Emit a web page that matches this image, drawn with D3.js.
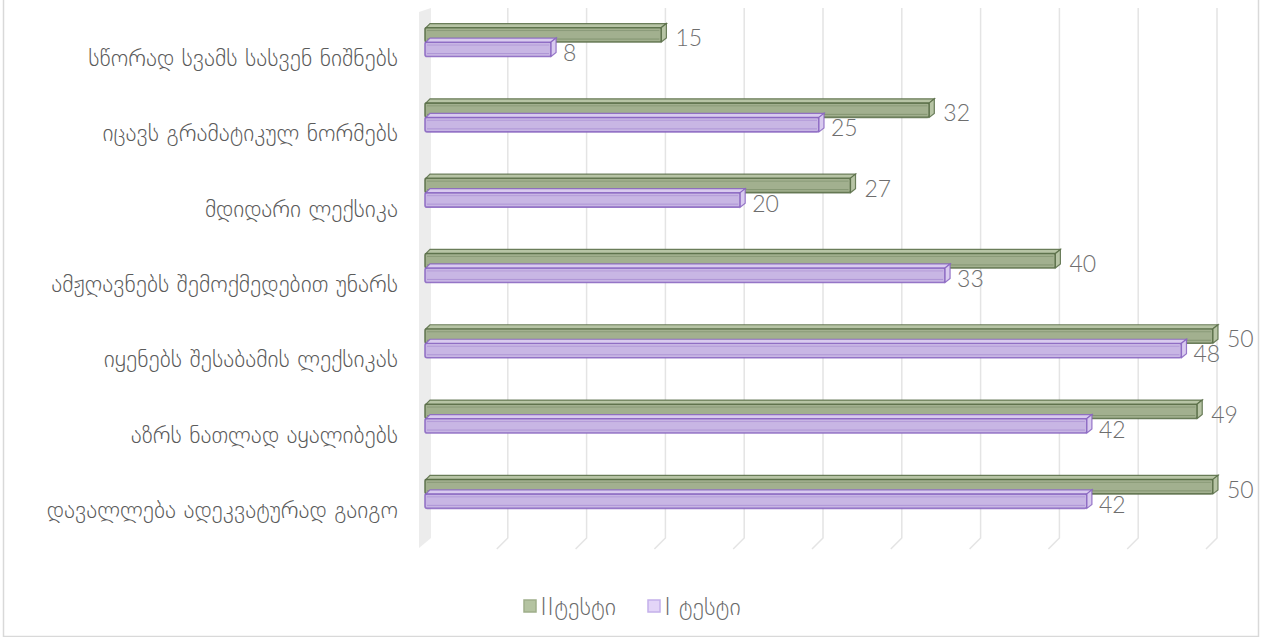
<!DOCTYPE html>
<html><head><meta charset="utf-8">
<script src="https://cdn.jsdelivr.net/npm/d3@7"></script>
<style>body{margin:0;background:#fff}svg{display:block}</style>
</head><body>
<script>
const categories = ["სწორად სვამს სასვენ ნიშნებს","იცავს გრამატიკულ ნორმებს","მდიდარი ლექსიკა","ამჟღავნებს შემოქმედებით უნარს","იყენებს შესაბამის ლექსიკას","აზრს ნათლად აყალიბებს ","დავალლება ადეკვატურად გაიგო"];
const test2 = [15,32,27,40,50,49,50];
const test1 = [8,25,20,33,48,42,42];
const seriesNames = ["IIტესტი","I ტესტი"];
const ticks = [0,5,10,15,20,25,30,35,40,45,50];

const W=1263,H=637;
const svg=d3.select("body").append("svg").attr("width",W).attr("height",H);
svg.append("rect").attr("x",3.5).attr("y",-2).attr("width",1255).attr("height",638.5).attr("fill","#fff").attr("stroke","#d9d9d9").attr("stroke-width",1.5);

const x=d3.scaleLinear().domain([0,50]).range([425,1213]);
const y=d3.scaleBand().domain(categories).range([4.4,531.5]);
const font="'DejaVu Sans', sans-serif";
const numFont="Lato, 'DejaVu Sans', sans-serif";

const g=svg.append("g");
g.append("path").attr("d",`M419,12 L431,8 L431,538 L419,548 Z`).attr("fill","#ececec");
ticks.slice(1).forEach(t=>{
  const xx=x(t)+4;
  g.append("path").attr("d",`M${xx},8 L${xx},538 L${xx-11},549`).attr("fill","none").attr("stroke","#e4e4e4").attr("stroke-width",1.5);
});

const h=14.5,d=5;
const series=[
  {vals:test2,fill:"#a2b08f",top:"#b7c4a5",stroke:"#566b44",off:-h},
  {vals:test1,fill:"#c8b6e4",top:"#d9cbef",stroke:"#8763c0",off:0}
];
categories.forEach((c,i)=>{
  const cy=y(c)+y.bandwidth()/2;
  series.forEach(s=>{
    const v=s.vals[i];
    const x0=x(0), x1=x(v), y0=cy+s.off;
    g.append("rect").attr("x",x0).attr("y",y0).attr("width",x1-x0).attr("height",h)
      .attr("fill",s.fill).attr("stroke",s.stroke).attr("stroke-width",1.6).attr("stroke-opacity",0.85).attr("rx",2);
    g.append("path").attr("d",`M${x0+1},${y0} L${x0+d},${y0-d+1} L${x1+d},${y0-d+1} L${x1},${y0} Z`)
      .attr("fill",s.top).attr("stroke",s.stroke).attr("stroke-width",1.2).attr("stroke-opacity",0.85);
    g.append("path").attr("d",`M${x1},${y0} L${x1+d},${y0-d+1} L${x1+d},${y0+h-d+1} L${x1},${y0+h} Z`)
      .attr("fill",s.top).attr("stroke",s.stroke).attr("stroke-width",1.2).attr("stroke-opacity",0.85);
    g.append("line").attr("x1",x0+2).attr("x2",x1-2).attr("y1",y0+h-3).attr("y2",y0+h-3).attr("stroke",s.stroke).attr("stroke-opacity",0.4);
    g.append("line").attr("x1",x0+2).attr("x2",x1-2).attr("y1",y0+3).attr("y2",y0+3).attr("stroke",s.stroke).attr("stroke-opacity",0.3);
  });
});
categories.forEach((c,i)=>{
  const cy=y(c)+y.bandwidth()/2;
  svg.append("text").attr("x",x(test2[i])+14).attr("y",cy+4).text(test2[i])
    .attr("font-family",numFont).attr("font-weight",300).attr("font-size",23).attr("fill","#6e6e6e");
  svg.append("text").attr("x",x(test1[i])+12).attr("y",cy+19).text(test1[i])
    .attr("font-family",numFont).attr("font-weight",300).attr("font-size",23).attr("fill","#6e6e6e");
});
categories.forEach(c=>{
  svg.append("text").attr("x",398).attr("y",y(c)+y.bandwidth()/2+24).attr("text-anchor","end")
    .attr("font-family",font).attr("font-weight",200).attr("font-size",23.5).attr("fill","#5a5a5a").text(c);
});
const leg=[{n:seriesNames[0],x:523,f:"#b4c3a1",s:"#9fae8a"},{n:seriesNames[1],x:647,f:"#e3d5f8",s:"#c4b0ea"}];
leg.forEach(l=>{
  svg.append("rect").attr("x",l.x+1).attr("y",600).attr("width",12).attr("height",12).attr("fill",l.f).attr("stroke",l.s).attr("stroke-width",1.5);
  svg.append("text").attr("x",l.x+17).attr("y",615).attr("font-family",font).attr("font-weight",200).attr("font-size",24).attr("fill","#6a6a6a").text(l.n);
});
</script>
</body></html>
